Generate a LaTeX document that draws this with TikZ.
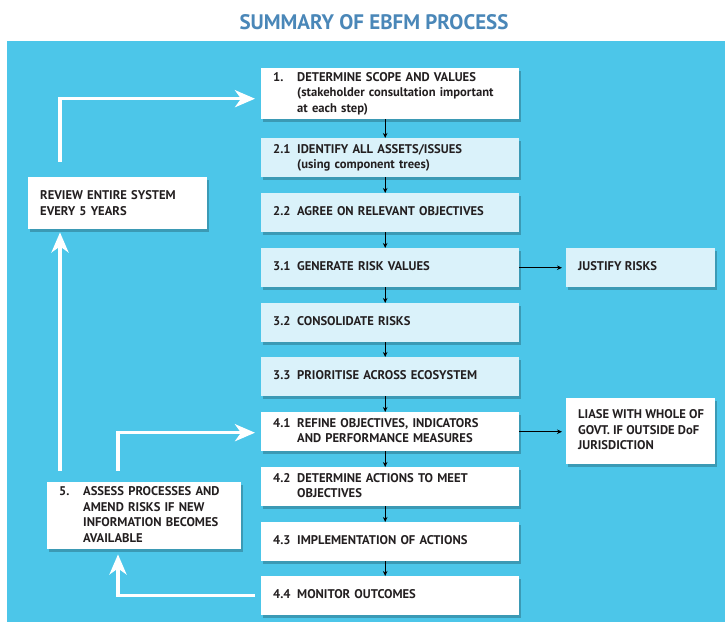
\documentclass[tikz,border=0pt]{standalone}
\usepackage{fontspec}
\setmainfont{PT Sans}
\usetikzlibrary{arrows.meta,shadows}
\definecolor{bgblue}{HTML}{4CC6E9}
\definecolor{lightbox}{HTML}{DAF2FA}
\definecolor{titleblue}{HTML}{4A87B8}
\definecolor{txt}{HTML}{231F20}
\newcommand{\steptext}[2]{\begin{tabular}{@{}p{24pt}@{}l@{}}#1 & #2\end{tabular}}
\newcommand{\sidetext}[1]{\makebox[125pt][l]{\begin{tabular}{@{}l@{}}#1\end{tabular}}}
\begin{document}
\begin{tikzpicture}[x=1pt,y=-1pt,
  boxbase/.style={draw=none, text=txt, anchor=north west, align=left,
    font=\bfseries\fontsize{12.6}{15.5}\selectfont, inner xsep=12pt, inner ysep=0pt,
    drop shadow={shadow xshift=2pt,shadow yshift=-2.5pt,opacity=0.22,fill=black}},
  mainbox/.style={boxbase, minimum width=258pt, text width=234pt, minimum height=39pt},
  whitebox/.style={fill=white},
  palebox/.style={fill=lightbox},
  sidebox/.style={boxbase, minimum width=149pt, minimum height=39pt},
  flow/.style={draw=black, line width=0.9pt, -{Stealth[length=5pt,width=4.5pt]}},
  warrow/.style={draw=white, line width=3.5pt, line join=miter,
    -{Stealth[length=20pt,width=17pt,inset=6pt]}},
  titlestyle/.style={text=titleblue, font=\bfseries\fontsize{21}{24}\selectfont, inner sep=0pt}
]
\useasboundingbox (0,0) rectangle (725,622);
\fill[bgblue] (7,41) rectangle (725,622);
\node[titlestyle] (title) at (374,22) {SUMMARY OF EBFM PROCESS};

% main column
\node[mainbox, whitebox, minimum height=51pt] (b1) at (261,68)
  {\steptext{1.}{DETERMINE SCOPE AND VALUES\\ & (stakeholder consultation important\\ & at each step)}};
\node[mainbox, palebox] (b21) at (261,138)
  {\steptext{2.1}{IDENTIFY ALL ASSETS/ISSUES\\ & (using component trees)}};
\node[mainbox, palebox] (b22) at (261,193)
  {\steptext{2.2}{AGREE ON RELEVANT OBJECTIVES}};
\node[mainbox, palebox] (b31) at (261,248)
  {\steptext{3.1}{GENERATE RISK VALUES}};
\node[mainbox, palebox] (b32) at (261,303)
  {\steptext{3.2}{CONSOLIDATE RISKS}};
\node[mainbox, palebox] (b33) at (261,357)
  {\steptext{3.3}{PRIORITISE ACROSS ECOSYSTEM}};
\node[mainbox, whitebox] (b41) at (261,412)
  {\steptext{4.1}{REFINE OBJECTIVES, INDICATORS\\ & AND PERFORMANCE MEASURES}};
\node[mainbox, whitebox] (b42) at (261,467)
  {\steptext{4.2}{DETERMINE ACTIONS TO MEET\\ & OBJECTIVES}};
\node[mainbox, whitebox] (b43) at (261,522)
  {\steptext{4.3}{IMPLEMENTATION OF ACTIONS}};
\node[mainbox, whitebox] (b44) at (261,576)
  {\steptext{4.4}{MONITOR OUTCOMES}};

% side boxes
\node[sidebox, palebox] (just) at (566,248) {\sidetext{JUSTIFY RISKS}};
\node[sidebox, whitebox, minimum height=66pt] (liase) at (566,398)
  {\sidetext{LIASE WITH WHOLE OF\\ GOVT. IF OUTSIDE DoF\\ JURISDICTION}};
\node[boxbase, whitebox, minimum width=179pt, text width=155pt, minimum height=52pt] (review) at (28,177)
  {REVIEW ENTIRE SYSTEM\\ EVERY 5 YEARS};
\node[boxbase, whitebox, minimum width=194pt, text width=170pt, minimum height=67pt] (assess) at (47,482)
  {\steptext{5.}{ASSESS PROCESSES AND\\ & AMEND RISKS IF NEW\\ & INFORMATION BECOMES\\ & AVAILABLE}};

% black flow arrows
\draw[flow] ([xshift=-5pt]b1.south) -- ([xshift=-5pt]b21.north);
\draw[flow] ([xshift=-5pt]b21.south) -- ([xshift=-5pt]b22.north);
\draw[flow] ([xshift=-5pt]b22.south) -- ([xshift=-5pt]b31.north);
\draw[flow] ([xshift=-5pt]b31.south) -- ([xshift=-5pt]b32.north);
\draw[flow] ([xshift=-5pt]b32.south) -- ([xshift=-5pt]b33.north);
\draw[flow] ([xshift=-5pt]b33.south) -- ([xshift=-5pt]b41.north);
\draw[flow] ([xshift=-5pt]b41.south) -- ([xshift=-5pt]b42.north);
\draw[flow] ([xshift=-5pt]b42.south) -- ([xshift=-5pt]b43.north);
\draw[flow] ([xshift=-5pt]b43.south) -- ([xshift=-5pt]b44.north);
\coordinate (justin) at ([xshift=-4pt]just.west);
\coordinate (liasein) at ([xshift=-4pt]liase.west);
\draw[flow] (b31.east) -- (justin);
\draw[flow] (b41.east) -- (b41.east -| liasein);

% white feedback arrows
\draw[warrow] ([xshift=32pt,yshift=15pt]review.north west) |- ([xshift=-6pt,yshift=-5pt]b1.west);
\draw[warrow] ([xshift=13pt,yshift=11pt]assess.north west) -- ([xshift=32pt,yshift=-3pt]review.south west);
\draw[warrow] ([xshift=71pt,yshift=11pt]assess.north west) |- ([xshift=-6pt,yshift=-1pt]b41.west);
\draw[warrow] ([xshift=-6pt]b44.west) -| ([xshift=71pt,yshift=-5pt]assess.south west);
\end{tikzpicture}
\end{document}
